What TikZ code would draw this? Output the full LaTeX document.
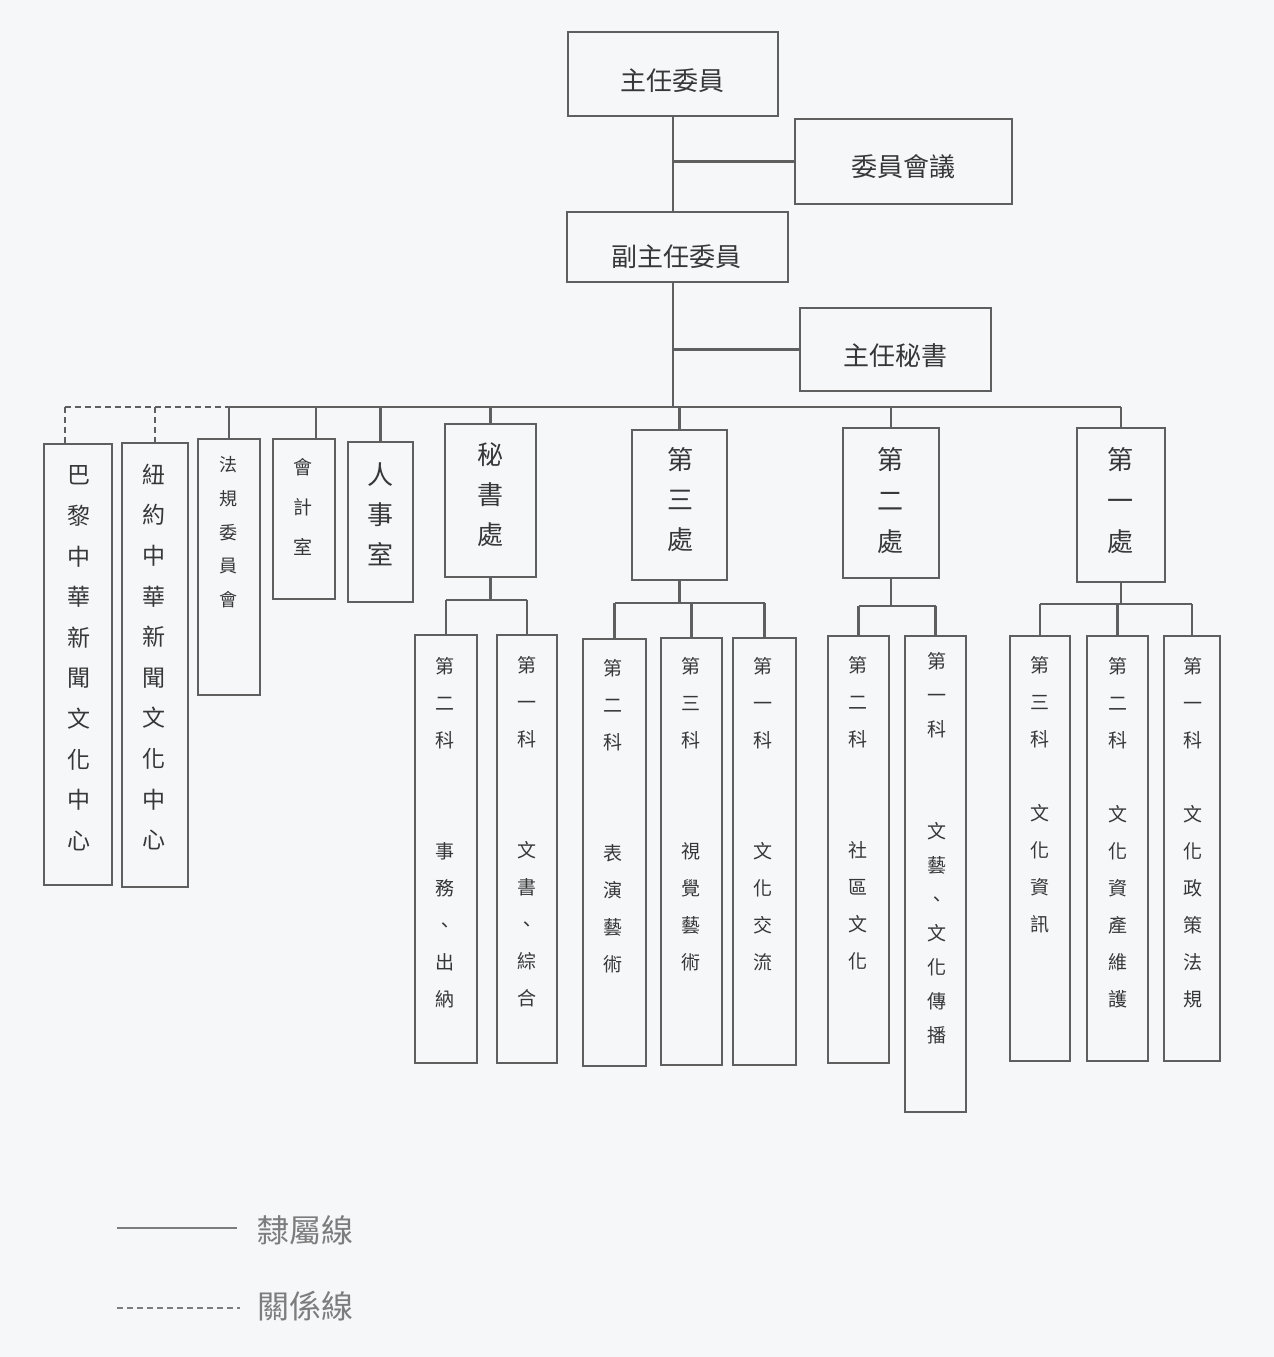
\documentclass[tikz,border=0pt]{standalone}
\usepackage{fontspec}
\setmainfont{Noto Sans CJK TC}
\definecolor{linec}{RGB}{95,95,95}
\definecolor{textc}{RGB}{55,55,55}
\definecolor{legc}{RGB}{125,125,125}
\definecolor{pagebg}{RGB}{246,247,249}
\tikzset{
  unit/.style={draw=linec, line width=1.2pt, inner sep=0pt, outer sep=0pt, anchor=north west},
  link/.style={draw=linec, line width=1.2pt},
  rel/.style={link, dash pattern=on 3pt off 2pt},
  htext/.style={text=textc, inner sep=0pt, font=\fontsize{13}{15}\selectfont},
  vtext/.style={text=textc, align=center, inner sep=0pt, anchor=north},
  sect/.style={vtext, font=\fontsize{9.5}{18.5}\selectfont},
  legtext/.style={text=legc, inner sep=0pt, anchor=west, font=\fontsize{16}{18}\selectfont},
}
\begin{document}
\begin{tikzpicture}[x=0.5pt, y=-0.5pt]
      \useasboundingbox (0,0) rectangle (1274,1357);
      \fill[pagebg] (0,0) rectangle (1274,1357);

      % top of the chart
      \node[unit, minimum width=105pt, minimum height=42pt] (chief) at (568,32) {};
      \node[unit, minimum width=108.5pt, minimum height=42.5pt] (council) at (795,119) {};
      \node[unit, minimum width=110.5pt, minimum height=35pt] (vice) at (567,212) {};
      \node[unit, minimum width=95.5pt, minimum height=41.5pt] (secgen) at (800,308) {};
      \node[htext] (chieft) at (672,81) {主任委員};
      \node[htext] (councilt) at (903,167) {委員會議};
      \node[htext] (vicet) at (676,257) {副主任委員};
      \node[htext] (secgent) at (895,356) {主任秘書};

      % offices and centres
      \node[unit, minimum width=34pt, minimum height=220.5pt] (paris) at (44,444) {};
      \node[unit, minimum width=33pt, minimum height=222pt] (ny) at (122,443) {};
      \node[unit, minimum width=31pt, minimum height=128pt] (legal) at (198,439) {};
      \node[unit, minimum width=31pt, minimum height=80pt] (acct) at (273,439) {};
      \node[unit, minimum width=32.5pt, minimum height=80pt] (hr) at (348,442) {};
      \node[vtext, font=\fontsize{11.5}{20.3}\selectfont] (parist) at (79,465.5)
        {巴\\黎\\中\\華\\新\\聞\\文\\化\\中\\心};
      \node[vtext, font=\fontsize{11.5}{20.3}\selectfont] (nyt) at (154,463.5)
        {紐\\約\\中\\華\\新\\聞\\文\\化\\中\\心};
      \node[vtext, font=\fontsize{9}{16.9}\selectfont] (legalt) at (228,456) {法\\規\\委\\員\\會};
      \node[vtext, font=\fontsize{9.5}{20}\selectfont] (acctt) at (303,458.5) {會\\計\\室};
      \node[vtext, font=\fontsize{13}{20}\selectfont] (hrt) at (380,462) {人\\事\\室};

      % departments
      \node[unit, minimum width=45.5pt, minimum height=76.5pt] (secr) at (445,424) {};
      \node[unit, minimum width=47.5pt, minimum height=75pt] (dept3) at (632,430) {};
      \node[unit, minimum width=48pt, minimum height=75pt] (dept2) at (843,428) {};
      \node[unit, minimum width=44pt, minimum height=77pt] (dept1) at (1077,428) {};
      \node[vtext, font=\fontsize{13}{20}\selectfont] (secrt) at (490,442) {秘\\書\\處};
      \node[vtext, font=\fontsize{13}{20}\selectfont] (dept3t) at (680,447) {第\\三\\處};
      \node[vtext, font=\fontsize{13}{20.5}\selectfont] (dept2t) at (890,447) {第\\二\\處};
      \node[vtext, font=\fontsize{13}{20.5}\selectfont] (dept1t) at (1120,447) {第\\一\\處};

      % sections
      \node[unit, minimum width=31pt, minimum height=214pt] (secr2) at (415,635) {};
      \node[unit, minimum width=30pt, minimum height=214pt] (secr1) at (497,635) {};
      \node[unit, minimum width=31.5pt, minimum height=213.5pt] (d3s2) at (583,639) {};
      \node[unit, minimum width=30.5pt, minimum height=213.5pt] (d3s3) at (661,638) {};
      \node[unit, minimum width=31.5pt, minimum height=213.5pt] (d3s1) at (733,638) {};
      \node[unit, minimum width=30.5pt, minimum height=213.5pt] (d2s2) at (828,636) {};
      \node[unit, minimum width=30.5pt, minimum height=238pt] (d2s1) at (905,636) {};
      \node[unit, minimum width=30pt, minimum height=212.5pt] (d1s3) at (1010,636) {};
      \node[unit, minimum width=30.5pt, minimum height=212.5pt] (d1s2) at (1087,636) {};
      \node[unit, minimum width=28pt, minimum height=212.5pt] (d1s1) at (1164,636) {};
      \node[sect] (secr2t) at (445,656.5) {第\\二\\科\\[37pt]事\\務\\、\\出\\納};
      \node[sect] (secr1t) at (527,655.5) {第\\一\\科\\[37pt]文\\書\\、\\綜\\合};
      \node[sect] (d3s2t) at (613,658.5) {第\\二\\科\\[37pt]表\\演\\藝\\術};
      \node[sect] (d3s3t) at (691,656.5) {第\\三\\科\\[37pt]視\\覺\\藝\\術};
      \node[sect] (d3s1t) at (763,656.5) {第\\一\\科\\[37pt]文\\化\\交\\流};
      \node[sect] (d2s2t) at (858,655.5) {第\\二\\科\\[37pt]社\\區\\文\\化};
      \node[vtext, font=\fontsize{9.5}{17}\selectfont] (d2s1t) at (937,651.5)
        {第\\一\\科\\[34pt]文\\藝\\、\\文\\化\\傳\\播};
      \node[sect] (d1s3t) at (1040,655.5) {第\\三\\科\\[18.5pt]文\\化\\資\\訊};
      \node[sect] (d1s2t) at (1118,656.5) {第\\二\\科\\[18.5pt]文\\化\\資\\產\\維\\護};
      \node[sect] (d1s1t) at (1193,656.5) {第\\一\\科\\[18.5pt]文\\化\\政\\策\\法\\規};

      % connectors
      \coordinate (bus) at (0,407);
      \draw[link] (chief.south) -- (chief.south |- vice.north);
      \draw[link] (chief.south |- council.west) -- (council.west);
      \draw[link] (chief.south |- vice.south) -- (chief.south |- bus);
      \draw[link] (chief.south |- secgen.west) -- (secgen.west);
      \draw[link] (legal.north |- bus) -- (dept1.north |- bus);
      \foreach \n in {legal,hr,secr,dept3,dept2,dept1}
        \draw[link] (\n.north |- bus) -- (\n.north);
      \draw[link] ([xshift=6pt]acct.north |- bus) -- ([xshift=6pt]acct.north);
      \draw[rel] ([xshift=-6.5pt]paris.north |- bus) -- (legal.north |- bus);
      \draw[rel] ([xshift=-6.5pt]paris.north |- bus) -- ([xshift=-6.5pt]paris.north);
      \draw[rel] (ny.north |- bus) -- (ny.north);

      \draw[link] (secr.south) -- ++(0,23) coordinate (secrbus);
      \draw[link] (secrbus -| secr2.north) -- (secrbus -| secr1.north);
      \draw[link] (dept3.south) -- ++(0,23) coordinate (d3bus);
      \draw[link] (d3bus -| d3s2.north) -- (d3bus -| d3s1.north);
      \draw[link] (dept2.south) -- ++(0,28) coordinate (d2bus);
      \draw[link] (d2bus -| d2s2.north) -- (d2bus -| d2s1.north);
      \draw[link] (dept1.south) -- ++(0,22) coordinate (d1bus);
      \draw[link] (d1bus -| d1s3.north) -- (d1bus -| d1s1.north);
      \foreach \n in {secr2,secr1}
        \draw[link] (secrbus -| \n.north) -- (\n.north);
      \foreach \n in {d3s2,d3s3,d3s1}
        \draw[link] (d3bus -| \n.north) -- (\n.north);
      \foreach \n in {d2s2,d2s1}
        \draw[link] (d2bus -| \n.north) -- (\n.north);
      \foreach \n in {d1s3,d1s2,d1s1}
        \draw[link] (d1bus -| \n.north) -- (\n.north);

      % legend
      \coordinate (solidA) at (117,1228);
      \coordinate (solidB) at (237,1228);
      \coordinate (dashA) at (117,1308);
      \coordinate (dashB) at (240,1308);
      \draw[link, draw=legc] (solidA) -- (solidB);
      \draw[rel, draw=legc] (dashA) -- (dashB);
      \node[legtext] (solidlab) at (257,1230) {隸屬線};
      \node[legtext] (dashlab) at (257,1306) {關係線};
\end{tikzpicture}
\end{document}
